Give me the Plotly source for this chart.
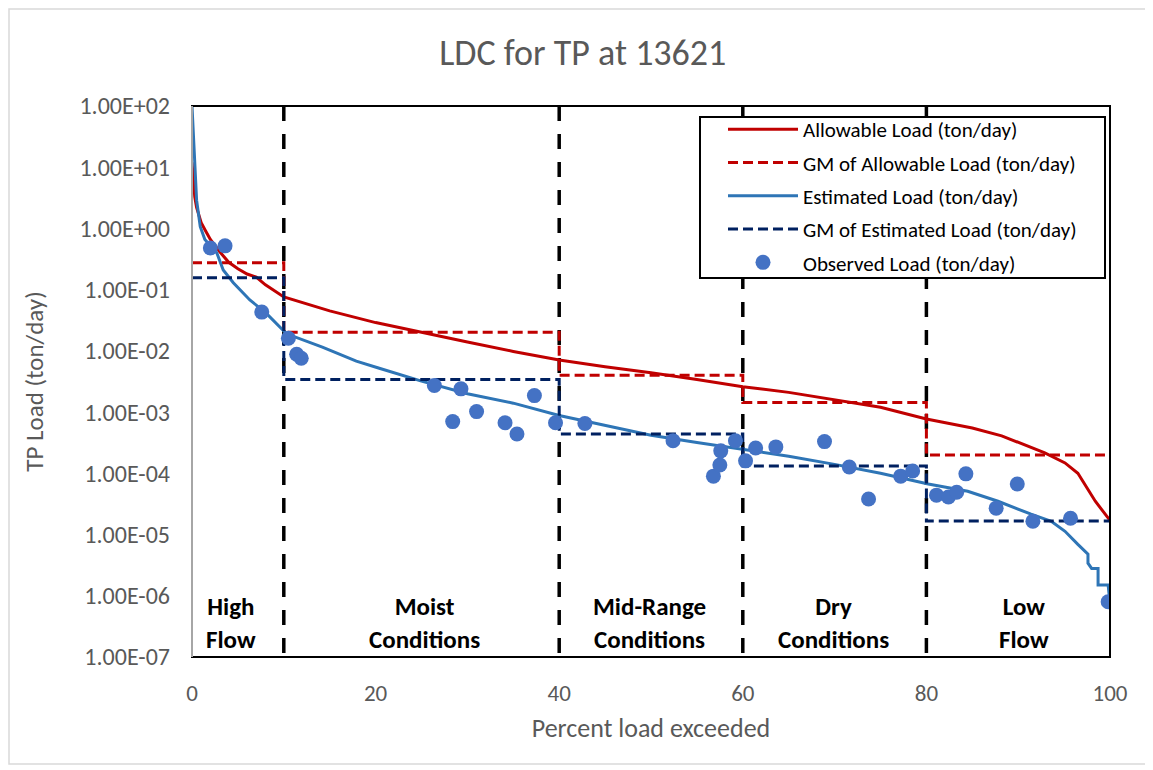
import plotly.graph_objects as go

# Allowable load curve (ton/day)
allow_pct = [0, 0.3, 0.5, 1, 1.5, 2, 3, 4, 5, 6, 7, 8, 10, 15, 20, 25, 30, 35, 40, 45, 50, 55, 60,
             65, 70, 75, 80, 85, 88.2, 92.9, 95.1, 96.5, 98.4, 99.7, 100]
allow_val = [12, 3.3, 2.2, 1.24, 0.9, 0.66, 0.42, 0.28, 0.22, 0.18, 0.16, 0.12, 0.076, 0.045, 0.029,
             0.02, 0.014, 0.0098, 0.0071, 0.0055, 0.0044, 0.0034, 0.0026, 0.0021, 0.0016, 0.0012,
             0.00077, 0.00055, 0.00041, 0.000216, 0.000148, 0.0001, 3.5e-5, 1.9e-5, 1.7e-5]

# Estimated load curve (ton/day)
est_pct = [0, 0.3, 0.5, 0.9, 1.4, 2.7, 3.4, 4.5, 6.3, 8.1, 10.3, 14.2, 17.9, 20.4, 25, 30, 35, 40,
           45, 50, 55, 60, 65, 70, 75, 80.2, 84.5, 87.8, 91.4, 93.6, 95.1, 96.5, 97.6, 97.6, 98,
           98.7, 98.7, 99.8, 99.8, 100]
est_val = [100, 10.7, 2.9, 1.07, 0.66, 0.4, 0.21, 0.13, 0.068, 0.041, 0.019, 0.0115, 0.0068,
           0.0052, 0.0032, 0.002, 0.0014, 0.00088, 0.0006, 0.00042, 0.00032, 0.00025, 0.00019,
           0.00014, 0.0001, 6.7e-5, 5.1e-5, 3.5e-5, 2.15e-5, 1.65e-5, 1.13e-5, 6.9e-6, 4.8e-6,
           3.4e-6, 2.8e-6, 2.8e-6, 1.5e-6, 1.5e-6, 1.5e-6, 7.4e-7]

# Flow regime boundaries and geometric means
bounds = [0, 10, 40, 60, 80, 100]
gm_allow = [0.274, 0.0202, 0.0040, 0.00143, 0.00020]
gm_est = [0.156, 0.0034, 0.00044, 0.000132, 1.66e-5]

# Observed loads
obs_pct = [2.0, 3.6, 7.6, 10.5, 11.4, 11.9, 26.4, 28.4, 29.3, 31.0, 34.1, 35.4, 37.3, 39.6, 42.8,
           52.4, 56.8, 57.5, 57.6, 59.2, 60.3, 61.4, 63.6, 68.9, 71.6, 73.7, 77.2, 78.5, 81.1,
           82.4, 83.3, 84.3, 87.6, 89.9, 91.6, 95.7, 99.8]
obs_val = [0.48, 0.52, 0.043, 0.0161, 0.0088, 0.0076, 0.00272, 0.0007, 0.0024, 0.00102, 0.00067,
           0.00044, 0.00186, 0.00067, 0.00065, 0.00034, 9.0e-5, 0.000137, 0.000233, 0.00034,
           0.00016, 0.00026, 0.00027, 0.00033, 0.000127, 3.8e-5, 9.0e-5, 0.000109, 4.4e-5, 4.1e-5,
           4.9e-5, 9.8e-5, 2.7e-5, 6.7e-5, 1.65e-5, 1.85e-5, 8.0e-7]

regime_labels = ["High<br>Flow", "Moist<br>Conditions", "Mid-Range<br>Conditions",
                 "Dry<br>Conditions", "Low<br>Flow"]
regime_x = [4.2, 25.3, 49.8, 69.9, 90.6]

tick_vals = [1e2, 1e1, 1e0, 1e-1, 1e-2, 1e-3, 1e-4, 1e-5, 1e-6, 1e-7]
tick_text = ["1.00E+02", "1.00E+01", "1.00E+00", "1.00E-01", "1.00E-02", "1.00E-03",
             "1.00E-04", "1.00E-05", "1.00E-06", "1.00E-07"]

FONT = "Carlito, Calibri, Lato, sans-serif"


def step(vals):
    xs, ys = [], []
    for i, v in enumerate(vals):
        xs += [bounds[i], bounds[i + 1]]
        ys += [v, v]
    return xs, ys


fig = go.Figure()

# vertical boundary lines
for b in bounds[1:-1]:
    fig.add_trace(go.Scatter(x=[b, b], y=[1e2, 1e-7], mode="lines", showlegend=False,
                             line=dict(color="black", width=3.5, dash="15px,13px"),
                             hoverinfo="skip"))

fig.add_trace(go.Scatter(x=allow_pct, y=allow_val, mode="lines", name="Allowable Load (ton/day)",
                         line=dict(color="#C00000", width=3), legendgroup="a"))
gx, gy = step(gm_allow)
fig.add_trace(go.Scatter(x=gx, y=gy, mode="lines", name="GM of Allowable Load (ton/day)",
                         line=dict(color="#C00000", width=3, dash="10px,5px"), legendgroup="b"))
fig.add_trace(go.Scatter(x=est_pct, y=est_val, mode="lines", name="Estimated Load (ton/day)",
                         line=dict(color="#2E75B6", width=3), legendgroup="c"))
gx, gy = step(gm_est)
fig.add_trace(go.Scatter(x=gx, y=gy, mode="lines", name="GM of Estimated Load (ton/day)",
                         line=dict(color="#002060", width=3, dash="10px,5px"), legendgroup="d"))
fig.add_trace(go.Scatter(x=obs_pct, y=obs_val, mode="markers", name="Observed Load (ton/day)",
                         marker=dict(color="#4472C4", size=15), legendgroup="e"))

for lx, lt in zip(regime_x, regime_labels):
    fig.add_annotation(x=lx, y=-6.44, xref="x", yref="y", text="<b>" + lt + "</b>",
                       showarrow=False, font=dict(family=FONT, size=25, color="black"))

# plot area border
fig.add_shape(type="rect", xref="paper", yref="paper", x0=0, x1=1, y0=0, y1=1,
              line=dict(color="black", width=2), layer="above")
fig.add_shape(type="line", xref="paper", yref="paper", x0=0, x1=0, y0=0, y1=1,
              line=dict(color="#A6A6A6", width=2), layer="above")
# legend box
fig.add_shape(type="rect", xref="paper", yref="paper",
              x0=(692 - 184) / 918, x1=(1097 - 184) / 918,
              y0=1 - (270 - 98) / 551, y1=1 - 11 / 551,
              line=dict(color="black", width=2), fillcolor="white", layer="above")
# outer chart border
fig.add_shape(type="rect", xref="paper", yref="paper",
              x0=-183 / 918, x1=(1139 - 184) / 918, y0=-107 / 551, y1=1 + 97 / 551,
              line=dict(color="#D9D9D9", width=1.5), layer="below")

fig.update_layout(
    width=1145, height=762,
    margin=dict(l=184, r=43, t=98, b=113),
    paper_bgcolor="white", plot_bgcolor="white",
    font=dict(family=FONT, color="#595959"),
    title=dict(text="LDC for TP at 13621", x=0.502, xanchor="center", y=1 - 44 / 762,
               yanchor="middle", font=dict(size=36, color="#595959")),
    xaxis=dict(range=[0, 100], tickvals=[0, 20, 40, 60, 80, 100], showgrid=False,
               zeroline=False, showline=False, ticks="", tickfont=dict(size=23),
               ticklabelstandoff=20,
               title=dict(text="Percent load exceeded", font=dict(size=26), standoff=12)),
    yaxis=dict(type="log", range=[-7, 2], tickvals=tick_vals, ticktext=tick_text,
               showgrid=False, zeroline=False, showline=False, ticks="",
               tickfont=dict(size=24), ticklabelstandoff=21,
               title=dict(text="TP Load (ton/day)", font=dict(size=25), standoff=28)),
    legend=dict(x=(715 - 184) / 918, y=1 - 3 / 551, xanchor="left", yanchor="top",
                bgcolor="rgba(0,0,0,0)", borderwidth=0,
                font=dict(size=21, color="black"), tracegroupgap=3, itemwidth=70),
)

fig.write_html("out.html")
